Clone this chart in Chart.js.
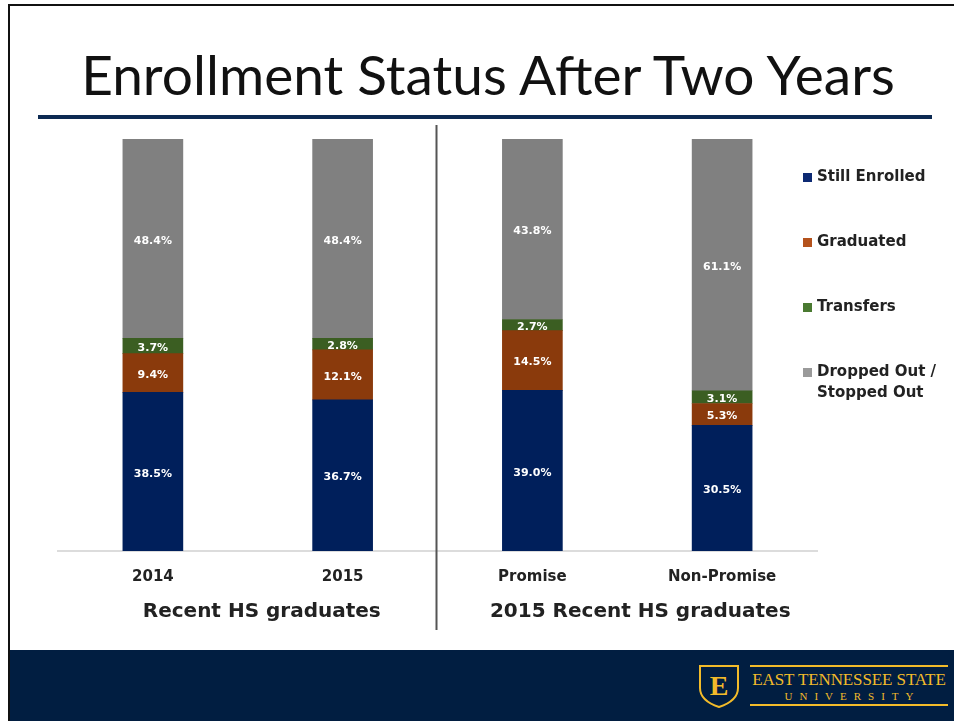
<!DOCTYPE html>
<html>
<head>
<meta charset="utf-8">
<script src="https://cdn.jsdelivr.net/npm/chart.js@4/dist/chart.umd.min.js"></script>
<style>
  html, body { margin: 0; padding: 0; background: #fff; }
  #slide { position: relative; width: 954px; height: 721px; overflow: hidden; background: #fff; }
  #frameTop { position: absolute; left: 8px; top: 4px; width: 946px; height: 2px; background: #111; }
  #frameLeft { position: absolute; left: 8px; top: 4px; width: 2px; height: 717px; background: #111; }
  #title { position: absolute; left: 10px; width: 956px; top: 41px; text-align: center;
    font-family: Lato, "Open Sans", sans-serif; font-size: 55px; color: #111; line-height: 66px; }
  #rule { position: absolute; left: 38px; top: 115px; width: 894px; height: 4px; background: #0d2a52; }
  #chartBox { position: absolute; left: 0; top: 0; width: 954px; height: 721px; }
  #legend { position: absolute; left: 803px; top: 166px; font-family: "DejaVu Sans", sans-serif;
    font-weight: bold; font-size: 15px; color: #222; line-height: 21px; }
  .item { position: absolute; left: 0; white-space: nowrap; }
  .sw { position: absolute; left: 0; top: 7px; width: 9px; height: 9px; }
  .txt { position: absolute; left: 14px; top: 0; }
  #footer { position: absolute; left: 10px; top: 650px; width: 944px; height: 71px; background: #011e41; }
  #shield { position: absolute; left: 688px; top: 14px; }
  #logoText { position: absolute; left: 740px; top: 15px; width: 198px; border-top: 2px solid #f2bb2a;
    border-bottom: 2px solid #f2bb2a; color: #f2bb2a; font-family: "Liberation Serif", "DejaVu Serif", serif;
    text-align: center; white-space: nowrap; }
  #logoText .l1 { font-size: 17px; line-height: 20px; margin-top: 3px; letter-spacing: -0.1px; }
  #logoText .l2 { font-size: 11px; line-height: 13px; letter-spacing: 7px; padding-left: 7px; margin-bottom: 1px; }
</style>
</head>
<body>
<div id="slide">
  <div id="chartBox"><canvas id="chart" width="954" height="721"></canvas></div>
  <div id="frameTop"></div>
  <div id="frameLeft"></div>
  <div id="title">Enrollment Status After Two Years</div>
  <div id="rule"></div>
  <div id="legend"></div>
  <div id="footer">
    <svg id="shield" width="42" height="44" viewBox="0 0 42 44">
      <path d="M2 2 H40 V24 C40 34 30 40 21 43 C12 40 2 34 2 24 Z" fill="none" stroke="#f2bb2a" stroke-width="2"/>
      <text x="21" y="31" text-anchor="middle" font-family="Liberation Serif, serif" font-weight="bold" font-size="28" fill="#f2bb2a">E</text>
    </svg>
    <div id="logoText">
      <div class="l1">EAST TENNESSEE STATE</div>
      <div class="l2">UNIVERSITY</div>
    </div>
  </div>
</div>
<script>
const categories = ["2014", "2015", "Promise", "Non-Promise"];
const groupLabels = ["Recent HS graduates", "2015 Recent HS graduates"];
const seriesNames = ["Still Enrolled", "Graduated", "Transfers", "Dropped Out /|Stopped Out"];
const stillEnrolled = [38.5, 36.7, 39.0, 30.5];
const graduated = [9.4, 12.1, 14.5, 5.3];
const transfers = [3.7, 2.8, 2.7, 3.1];
const droppedOut = [48.4, 48.4, 43.8, 61.1];
const colors = ["#001f5b", "#8a3a0c", "#3b5e22", "#808080"];
const legendColors = ["#0d2a73", "#b4521c", "#4a7a31", "#9a9a9a"];

const seriesValues = [stillEnrolled, graduated, transfers, droppedOut];
const textFont = "DejaVu Sans";

// legend in html, one row every 65px
const legendEl = document.getElementById("legend");
seriesNames.forEach((name, i) => {
  const item = document.createElement("div");
  item.className = "item";
  item.style.top = (i * 65) + "px";
  item.innerHTML = '<span class="sw" style="background:' + legendColors[i] + '"></span>' +
    '<span class="txt">' + name.split("|").join("<br>") + '</span>';
  legendEl.appendChild(item);
});

// white value labels in the middle of each segment
const segmentLabels = {
  id: "segmentLabels",
  afterDatasetsDraw(chart) {
    const ctx = chart.ctx;
    ctx.save();
    ctx.fillStyle = "#fff";
    ctx.font = "bold 11px " + textFont;
    ctx.textAlign = "center";
    ctx.textBaseline = "middle";
    chart.data.datasets.forEach((ds, di) => {
      chart.getDatasetMeta(di).data.forEach((bar, i) => {
        const p = bar.getProps(["x", "y", "base"], true);
        ctx.fillText(ds.data[i].toFixed(1) + "%", p.x, (p.y + p.base) / 2 + 2);
      });
    });
    ctx.restore();
  }
};

// divider between the two groups and the group titles under the ticks
const groups = {
  id: "groups",
  afterDraw(chart) {
    const ctx = chart.ctx;
    const x = chart.scales.x;
    const mid = (x.getPixelForValue(1) + x.getPixelForValue(2)) / 2 - 1;
    ctx.save();
    ctx.strokeStyle = "#555";
    ctx.lineWidth = 2;
    ctx.beginPath();
    ctx.moveTo(mid, 125);
    ctx.lineTo(mid, 630);
    ctx.stroke();
    ctx.fillStyle = "#222";
    ctx.font = "bold 20px " + textFont;
    ctx.textAlign = "center";
    ctx.textBaseline = "middle";
    ctx.fillText(groupLabels[0], (x.getPixelForValue(0) + x.getPixelForValue(1)) / 2 + 14, 612);
    ctx.fillText(groupLabels[1], (x.getPixelForValue(2) + x.getPixelForValue(3)) / 2 + 13, 612);
    ctx.restore();
  }
};

new Chart(document.getElementById("chart"), {
  type: "bar",
  data: {
    labels: categories,
    datasets: seriesNames.map((name, i) => ({
      label: name.replace("|", " "),
      data: seriesValues[i],
      backgroundColor: colors[i],
      barThickness: 60,
    })),
  },
  options: {
    responsive: false,
    animation: false,
    layout: { padding: { left: 58, right: 137, top: 139, bottom: 118 } },
    plugins: { legend: { display: false }, tooltip: { enabled: false } },
    scales: {
      x: {
        stacked: true,
        grid: { display: false, drawTicks: false },
        border: { display: true, color: "#dcdcdc", width: 2 },
        ticks: { color: "#222", padding: 17, font: { family: textFont, size: 15, weight: "bold" } },
      },
      y: { stacked: true, min: 0, max: 100, display: false },
    },
  },
  plugins: [segmentLabels, groups],
});
</script>
</body>
</html>
